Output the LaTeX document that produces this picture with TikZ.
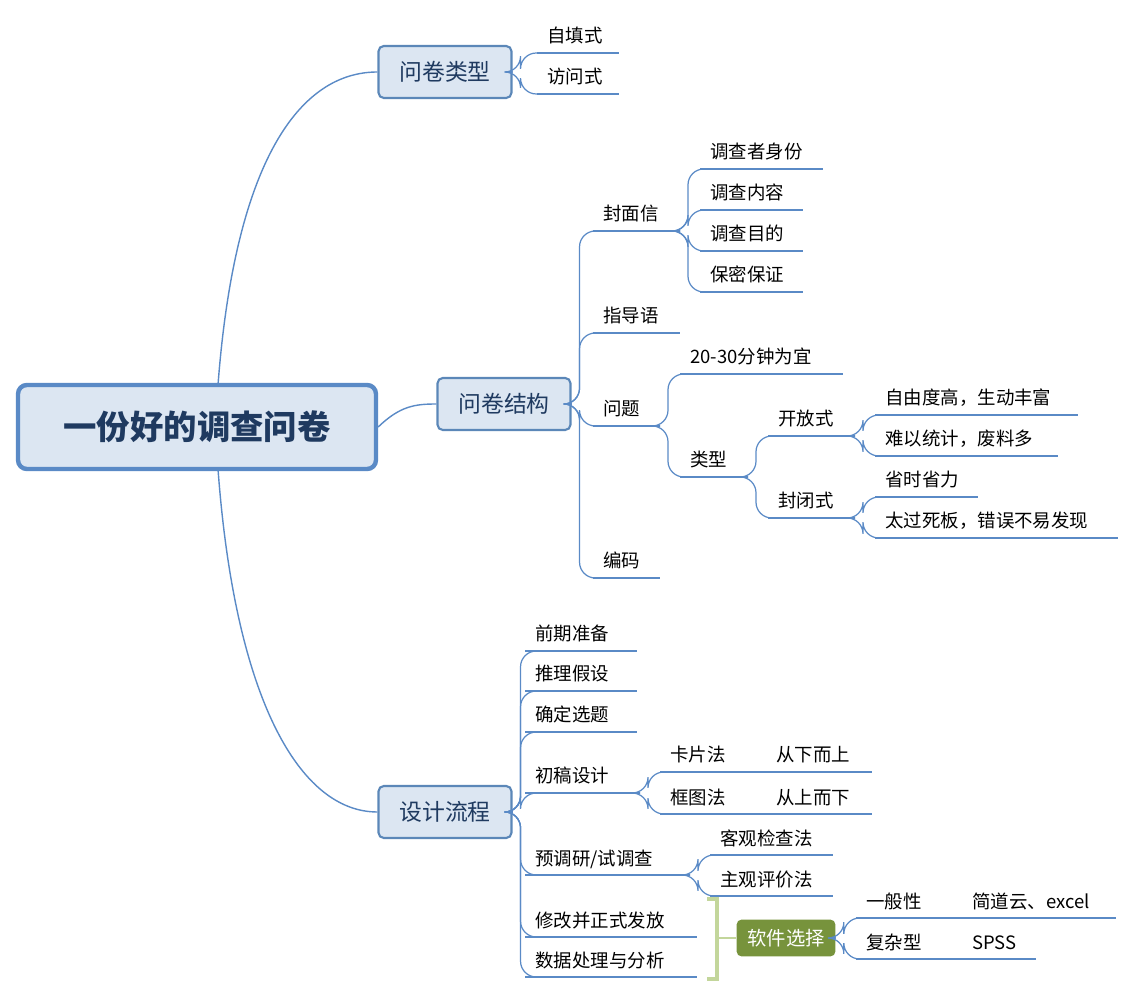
\documentclass[tikz,border=0pt]{standalone}
\usepackage{fontspec}
\setmainfont{Noto Sans CJK SC}
\definecolor{lblue}{HTML}{5A8AC6}
\definecolor{bfill}{HTML}{DCE6F2}
\definecolor{bdraw}{HTML}{5B87B8}
\definecolor{btext}{HTML}{1F3A60}
\definecolor{gline}{HTML}{C3D69B}
\definecolor{gfill}{HTML}{77933C}
\tikzset{
 uline/.style={draw=lblue,line width=1.3pt},
 conn/.style={draw=lblue,line width=0.7pt,rounded corners=9pt},
 leaftext/.style={anchor=base west,inner sep=0pt,font=\fontsize{10.5}{12}\selectfont},
 mbox/.style={draw=bdraw,fill=bfill,line width=1.2pt,rounded corners=3pt,text=btext,font=\fontsize{13}{15}\selectfont,minimum width=2.66cm,minimum height=1.04cm},
}
\newcommand\leaf[5]{\coordinate (#1l) at (#2,#4); \coordinate (#1r) at (#3,#4);
 \draw[uline] (#1l) -- (#1r);
 \node[leaftext] (#1) at (#2+10,#4-10) {#5};}
\newcommand\conn[2]{\draw[conn] (#1) -- ++(8,0) |- (#2);}
\begin{document}
\begin{tikzpicture}[x=0.02cm,y=-0.02cm]
\useasboundingbox (0,0) rectangle (1136,999);
% root
\node[draw=lblue,fill=bfill,line width=2.5pt,rounded corners=5pt,minimum width=7.16cm,minimum height=1.68cm,text=btext,font=\fontsize{19}{22}\selectfont\bfseries] (root) at (197,427) {一份好的调查问卷};
\node[mbox] (t1) at (445,72) {问卷类型};
\node[mbox] (t2) at (504,404) {问卷结构};
\node[mbox] (t3) at (445,812) {设计流程};
\coordinate (rt) at (218,385); \coordinate (rb) at (218,469);
\draw[lblue,line width=0.8pt] (rt) .. controls (235,160) and (300,72) .. (t1.west);
\draw[lblue,line width=0.8pt] (rb) .. controls (235,700) and (300,812) .. (t3.west);
\draw[lblue,line width=0.8pt] (root.east) .. controls (400,406) and (415,404) .. (t2.west);
% type
\leaf{a1}{537}{619}{53}{自填式}
\leaf{a2}{537}{619}{94}{访问式}
\conn{t1.east}{a1l}\conn{t1.east}{a2l}
% structure
\leaf{b1}{593}{680}{231}{封面信}
\leaf{b2}{593}{680}{333}{指导语}
\leaf{b3}{593}{660}{426}{问题}
\leaf{b4}{593}{660}{578}{编码}
\foreach \c in {b1l,b2l,b3l,b4l}{\conn{t2.east}{\c}}
\leaf{c1}{700}{823}{169}{调查者身份}
\leaf{c2}{700}{803}{210}{调查内容}
\leaf{c3}{700}{803}{251}{调查目的}
\leaf{c4}{700}{803}{292}{保密保证}
\foreach \c in {c1l,c2l,c3l,c4l}{\conn{b1r}{\c}}
\leaf{d1}{680}{843}{374}{20-30分钟为宜}
\leaf{d2}{680}{748}{477}{类型}
\conn{b3r}{d1l}\conn{b3r}{d2l}
\leaf{e1}{768}{855}{436}{开放式}
\leaf{e2}{768}{855}{518}{封闭式}
\conn{d2r}{e1l}\conn{d2r}{e2l}
\leaf{f1}{875}{1078}{415}{自由度高，生动丰富}
\leaf{f2}{875}{1058}{456}{难以统计，废料多}
\leaf{f3}{875}{978}{497}{省时省力}
\leaf{f4}{875}{1118}{538}{太过死板，错误不易发现}
\conn{e1r}{f1l}\conn{e1r}{f2l}\conn{e2r}{f3l}\conn{e2r}{f4l}
% process
\leaf{g1}{525}{637}{651}{前期准备}
\leaf{g2}{525}{637}{691}{推理假设}
\leaf{g3}{525}{637}{732}{确定选题}
\leaf{g4}{525}{640}{793}{初稿设计}
\leaf{g5}{525}{690}{875}{预调研/试调查}
\leaf{g6}{525}{697}{937}{修改并正式发放}
\leaf{g7}{525}{697}{977}{数据处理与分析}
\foreach \c in {g1l,g2l,g3l,g4l,g5l,g6l,g7l}{\conn{t3.east}{\c}}
\leaf{h1}{660}{746}{772}{卡片法}
\leaf{h2}{660}{746}{814}{框图法}
\conn{g4r}{h1l}\conn{g4r}{h2l}
\leaf{h3}{766}{872}{772}{从下而上}
\leaf{h4}{766}{872}{814}{从上而下}
\draw[uline] (h1r) -- (h3l); \draw[uline] (h2r) -- (h4l);
\leaf{i1}{710}{833}{855}{客观检查法}
\leaf{i2}{710}{833}{896}{主观评价法}
\conn{g5r}{i1l}\conn{g5r}{i2l}
% software
\coordinate (bt) at (707,899); \coordinate (bb) at (707,979); \coordinate (bm) at (717,938);
\draw[gline,line width=2.5pt] (bt) -- (717,899) -- (717,979) -- (bb);
\node[fill=gfill,rounded corners=3pt,minimum width=1.98cm,minimum height=0.74cm,text=white,font=\fontsize{11}{13}\selectfont\itshape] (sw) at (786,938) {软件选择};
\draw[gline,line width=1.5pt] (bm) -- (sw.west);
\leaf{j1}{856}{942}{918}{一般性}
\leaf{j2}{856}{942}{959}{复杂型}
\conn{sw.east}{j1l}\conn{sw.east}{j2l}
\leaf{k1}{962}{1116}{918}{简道云、excel}
\leaf{k2}{962}{1036}{959}{SPSS}
\draw[uline] (j1r) -- (k1l); \draw[uline] (j2r) -- (k2l);
\end{tikzpicture}
\end{document}
